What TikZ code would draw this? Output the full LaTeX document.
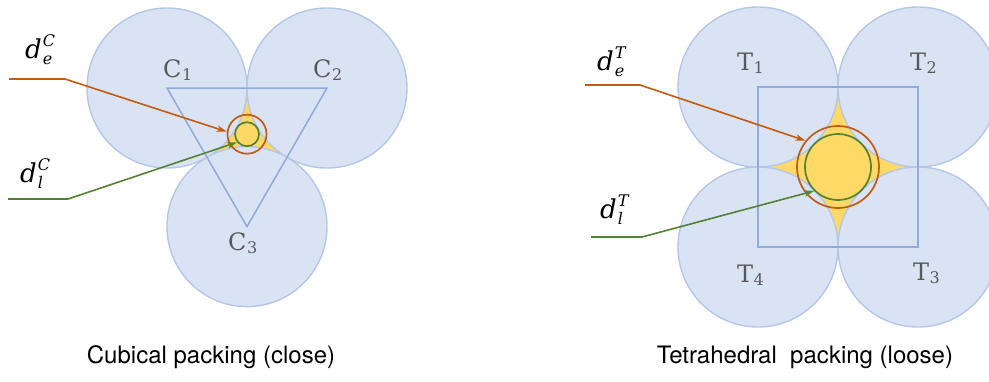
\documentclass[tikz,border=0pt]{standalone}
\usepackage{fontspec}
\newfontfamily\capfont{TeX Gyre Heros}
\newfontfamily\dfont{DejaVu Serif}
\usetikzlibrary{arrows.meta}
\definecolor{cfill}{HTML}{DAE3F3}
\definecolor{cline}{HTML}{B4C7E7}
\definecolor{pline}{HTML}{8FAADC}
\definecolor{yel}{HTML}{FFD966}
\definecolor{org}{HTML}{C55A11}
\definecolor{grn}{HTML}{548235}
\definecolor{lbl}{HTML}{595959}
\newcommand\clab[2]{#1\kern0.5pt\raisebox{-3.5pt}{\fontsize{16}{18}\selectfont #2}}
\newcommand\dlab[2]{d\kern1pt\rlap{\raisebox{12pt}{\fontsize{16}{18}\selectfont #1}}\raisebox{-6pt}{\fontsize{16}{18}\selectfont #2}}
\begin{document}
\begin{tikzpicture}[x=1pt,y=-1pt,
  ball/.style={circle, fill=cfill, draw=cline, line width=1.4pt, minimum size=160pt, inner sep=0pt},
  frame/.style={draw=pline, line width=1.5pt, line join=miter},
  gdisk/.style={circle, fill=yel, draw=grn, line width=1.7pt, inner sep=0pt},
  odisk/.style={circle, draw=org, line width=1.7pt, inner sep=0pt},
  oline/.style={draw=org, line width=1.6pt, -{Stealth[length=10pt,width=6.5pt,inset=3pt]}},
  gline/.style={draw=grn, line width=1.6pt, -{Stealth[length=10pt,width=6.5pt,inset=3pt]}},
  ctr/.style={text=lbl, font=\dfont\fontsize{24}{28}\selectfont, inner sep=0pt, anchor=base west},
  dtxt/.style={text=black, font=\dfont\itshape\fontsize{26}{30}\selectfont, inner sep=0pt, anchor=base west},
  captxt/.style={text=black, font=\capfont\fontsize{24}{28}\selectfont, inner sep=0pt}]
\useasboundingbox (0,0) rectangle (989,381);

% ---------- left: cubical packing ----------
\coordinate (P1) at (167,88);
\coordinate (P2) at (327,88);
\coordinate (P3) at (247,226.6);
\fill[yel] (P1) -- (P2) -- (P3) -- cycle;
\node[ball] (C1) at (P1) {};
\node[ball] (C2) at (P2) {};
\node[ball] (C3) at (P3) {};
\draw[frame] (P1) -- (P2) -- (P3) -- cycle;
\node[gdisk, minimum size=24pt] (gL) at (247,134.2) {};
\node[odisk, minimum size=39pt] (oL) at (247,134.2) {};

\node[ctr] (lC1) at (163,77) {\clab{C}{1}};
\node[ctr] (lC2) at (313,77) {\clab{C}{2}};
\node[ctr] (lC3) at (228,250) {\clab{C}{3}};

\coordinate (eL0) at (9,79);
\coordinate (eL1) at (65,79);
\draw[oline] (eL0) -- (eL1) -- (oL.173);
\coordinate (lL0) at (8,199);
\coordinate (lL1) at (68,199);
\draw[gline] (lL0) -- (lL1) -- (gL.219);
\node[dtxt] (deC) at (25,58) {\dlab{C}{e}};
\node[dtxt] (dlC) at (20,182) {\dlab{C}{l}};

\node[captxt] (capL) at (211,357) {Cubical packing (close)};

% ---------- right: tetrahedral packing ----------
\coordinate (Q1) at (758,87);
\coordinate (Q2) at (918,87);
\coordinate (Q3) at (918,247);
\coordinate (Q4) at (758,247);
\fill[yel] (Q1) -- (Q2) -- (Q3) -- (Q4) -- cycle;
\node[ball] (T1) at (Q1) {};
\node[ball] (T2) at (Q2) {};
\node[ball] (T3) at (Q3) {};
\node[ball] (T4) at (Q4) {};
\draw[frame] (Q1) -- (Q2) -- (Q3) -- (Q4) -- cycle;
\node[gdisk, minimum size=66pt] (gR) at (838,167) {};
\node[odisk, minimum size=82pt] (oR) at (838,167) {};

\node[ctr] (lT1) at (737,70) {\clab{T}{1}};
\node[ctr] (lT2) at (910,70) {\clab{T}{2}};
\node[ctr] (lT3) at (913,280) {\clab{T}{3}};
\node[ctr] (lT4) at (737,282) {\clab{T}{4}};

\coordinate (eR0) at (585,85);
\coordinate (eR1) at (640,85);
\draw[oline] (eR0) -- (eR1) -- (oR.141);
\coordinate (lR0) at (591,237);
\coordinate (lR1) at (642,237);
\draw[gline] (lR0) -- (lR1) -- (gR.225);
\node[dtxt] (deT) at (597,70) {\dlab{T}{e}};
\node[dtxt] (dlT) at (600,218) {\dlab{T}{l}};

\node[captxt] (capR) at (805,357) {Tetrahedral\ \ packing (loose)};
\end{tikzpicture}
\end{document}
